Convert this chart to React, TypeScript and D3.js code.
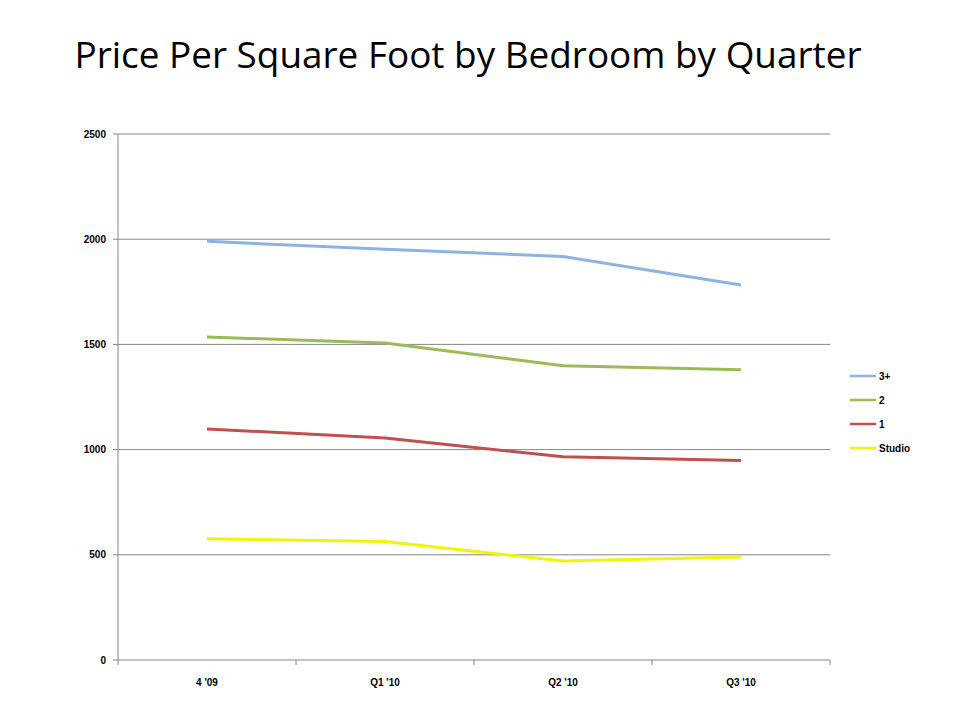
import React from "react";
import * as d3 from "d3";

const categories = ["4 '09", "Q1 '10", "Q2 '10", "Q3 '10"];
const seriesNames = ["3+", "2", "1", "Studio"];
const values3 = [1990, 1952, 1918, 1782];
const values2 = [1535, 1507, 1398, 1380];
const values1 = [1098, 1055, 966, 948];
const valuesStudio = [576, 563, 470, 490];
const yTicks = [0, 500, 1000, 1500, 2000, 2500];
const colors = ["#8DB3E2", "#9BBB59", "#C0504D", "#F2F20A"];

export default function App() {
  const W = 960, H = 720;
  const left = 118, right = 830, top = 134, bottom = 660;
  const x = d3.scaleBand<string>().domain(categories).range([left, right]);
  const y = d3.scaleLinear().domain([0, 2500]).range([bottom, top]);
  const allSeries = [values3, values2, values1, valuesStudio];
  const line = d3
    .line<number>()
    .x((_, i) => (x(categories[i]) as number) + x.bandwidth() / 2)
    .y((d) => y(d));
  const grid = "#868686";
  const tickFont = "'Liberation Sans', Arial, sans-serif";
  return (
    <svg width={W} height={H} style={{ position: "absolute", left: 0, top: 0, background: "#fff" }}>
      <rect width={W} height={H} fill="#fff" />
      <text
        x={468}
        y={68}
        textAnchor="middle"
        fontFamily="'Open Sans', 'Noto Sans', sans-serif"
        fontSize={36}
        fontWeight={500}
        textLength={787}
        lengthAdjust="spacingAndGlyphs"
        fill="#000"
      >
        Price Per Square Foot by Bedroom by Quarter
      </text>
      {yTicks.map((t) => (
        <g key={t}>
          {t > 0 && <line x1={left} x2={right} y1={y(t)} y2={y(t)} stroke={grid} strokeWidth={1} />}
          <line x1={left - 5} x2={left} y1={y(t)} y2={y(t)} stroke={grid} strokeWidth={1} />
          <text
            x={left - 12}
            y={y(t) + 3.5}
            textAnchor="end"
            fontFamily={tickFont}
            fontWeight="bold"
            fontSize={10}
            fill="#000"
          >
            {t}
          </text>
        </g>
      ))}
      <line x1={left} x2={left} y1={top} y2={bottom} stroke={grid} strokeWidth={1} />
      <line x1={left} x2={right} y1={bottom} y2={bottom} stroke={grid} strokeWidth={1} />
      {categories.map((c, i) => (
        <g key={c}>
          <line
            x1={(x(c) as number) + x.bandwidth()}
            x2={(x(c) as number) + x.bandwidth()}
            y1={bottom}
            y2={bottom + 5}
            stroke={grid}
          />
          {i === 0 && <line x1={left} x2={left} y1={bottom} y2={bottom + 5} stroke={grid} />}
          <text
            x={(x(c) as number) + x.bandwidth() / 2}
            y={bottom + 26}
            textAnchor="middle"
            fontFamily={tickFont}
            fontWeight="bold"
            fontSize={10}
            fill="#000"
          >
            {c}
          </text>
        </g>
      ))}
      {allSeries.map((s, i) => (
        <path
          key={seriesNames[i]}
          d={line(s) as string}
          fill="none"
          stroke={colors[i]}
          strokeWidth={3}
          strokeLinejoin="round"
        />
      ))}
      {seriesNames.map((n, i) => (
        <g key={n} transform={`translate(850, ${376 + i * 24})`}>
          <line x1={0} x2={26} y1={0} y2={0} stroke={colors[i]} strokeWidth={2.5} />
          <text x={29} y={3.5} fontFamily={tickFont} fontWeight="bold" fontSize={10} fill="#000">
            {n}
          </text>
        </g>
      ))}
    </svg>
  );
}
